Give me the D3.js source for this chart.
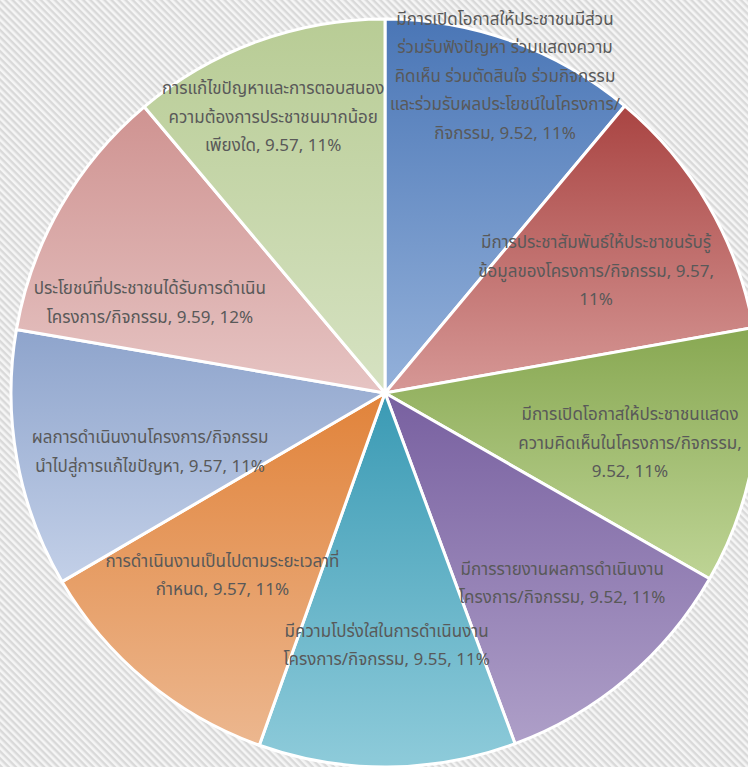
<!DOCTYPE html>
<html><head><meta charset="utf-8">
<script src="https://cdn.jsdelivr.net/npm/d3@7"></script>
<style>html,body{margin:0;padding:0;background:#fff;}svg{display:block;}</style>
</head><body>
<svg id="c" width="748" height="767"></svg>
<script>
const categories = [
  "มีการเปิดโอกาสให้ประชาชนมีส่วนร่วมรับฟังปัญหา ร่วมแสดงความคิดเห็น ร่วมตัดสินใจ ร่วมกิจกรรมและร่วมรับผลประโยชน์ในโครงการ/กิจกรรม",
  "มีการประชาสัมพันธ์ให้ประชาชนรับรู้ข้อมูลของโครงการ/กิจกรรม",
  "มีการเปิดโอกาสให้ประชาชนแสดงความคิดเห็นในโครงการ/กิจกรรม",
  "มีการรายงานผลการดำเนินงานโครงการ/กิจกรรม",
  "มีความโปร่งใสในการดำเนินงานโครงการ/กิจกรรม",
  "การดำเนินงานเป็นไปตามระยะเวลาที่กำหนด",
  "ผลการดำเนินงานโครงการ/กิจกรรมนำไปสู่การแก้ไขปัญหา",
  "ประโยชน์ที่ประชาชนได้รับการดำเนินโครงการ/กิจกรรม",
  "การแก้ไขปัญหาและการตอบสนองความต้องการประชาชนมากน้อยเพียงใด"
];
const values = [9.52, 9.57, 9.52, 9.52, 9.55, 9.57, 9.57, 9.59, 9.57];
const percentLabels = ["11%","11%","11%","11%","11%","11%","11%","12%","11%"];
// line wrapping of each data label, as shown in the chart
const labelLines = [
  ["มีการเปิดโอกาสให้ประชาชนมีส่วน","ร่วมรับฟังปัญหา ร่วมแสดงความ","คิดเห็น ร่วมตัดสินใจ ร่วมกิจกรรม","และร่วมรับผลประโยชน์ในโครงการ/","กิจกรรม, 9.52, 11%"],
  ["มีการประชาสัมพันธ์ให้ประชาชนรับรู้","ข้อมูลของโครงการ/กิจกรรม, 9.57,","11%"],
  ["มีการเปิดโอกาสให้ประชาชนแสดง","ความคิดเห็นในโครงการ/กิจกรรม,","9.52, 11%"],
  ["มีการรายงานผลการดำเนินงาน","โครงการ/กิจกรรม, 9.52, 11%"],
  ["มีความโปร่งใสในการดำเนินงาน","โครงการ/กิจกรรม, 9.55, 11%"],
  ["การดำเนินงานเป็นไปตามระยะเวลาที่","กำหนด, 9.57, 11%"],
  ["ผลการดำเนินงานโครงการ/กิจกรรม","นำไปสู่การแก้ไขปัญหา, 9.57, 11%"],
  ["ประโยชน์ที่ประชาชนได้รับการดำเนิน","โครงการ/กิจกรรม, 9.59, 12%"],
  ["การแก้ไขปัญหาและการตอบสนอง","ความต้องการประชาชนมากน้อย","เพียงใด, 9.57, 11%"]
];
const colorsTop = ["#4a76b6","#a94442","#88a852","#7860a0","#3a9ab4","#e1833a","#8ea4cc","#cf9391","#b8cc95"];
const colorsBottom = ["#94b1da","#d69896","#bed495","#ae9fc8","#8ecbda","#ecb78f","#c3d0e8","#e6c4c3","#d6e2c2"];

// label layout (distance from centre, angle nudge in degrees)
const labelR = [339, 244, 250, 260, 252, 244, 242, 252, 298];
const labelDA = [0.8, 0, 1.6, -2.7, 0, 2.1, -3.7, -8.8, -2];

const svg = d3.select("#c");
const W = 748, H = 767, cx = 385, cy = 393, R = 374;
const defs = svg.append("defs");
const pat = defs.append("pattern").attr("id","stripes").attr("patternUnits","userSpaceOnUse")
  .attr("width",5).attr("height",5).attr("patternTransform","rotate(45)");
pat.append("rect").attr("width",5).attr("height",5).attr("fill","#f5f5f5");
pat.append("rect").attr("width",5).attr("height",2.4).attr("fill","#d9d9d9");
svg.append("rect").attr("width",W).attr("height",H).attr("fill","url(#stripes)");

values.forEach((v,i)=>{
  const g = defs.append("linearGradient").attr("id","g"+i).attr("x1",0).attr("y1",0).attr("x2",0).attr("y2",1);
  g.append("stop").attr("offset","0%").attr("stop-color",colorsTop[i]);
  g.append("stop").attr("offset","100%").attr("stop-color",colorsBottom[i]);
});

const pie = d3.pie().sort(null).value(d=>d)(values);
const arc = d3.arc().innerRadius(0).outerRadius(R);
const gp = svg.append("g").attr("transform",`translate(${cx},${cy})`);
gp.selectAll("path").data(pie).join("path")
  .attr("d",arc).attr("fill",(d,i)=>`url(#g${i})`)
  .attr("stroke","#fff").attr("stroke-width",3).attr("stroke-linejoin","round")
  .append("title").text((d,i)=>`${categories[i]}, ${values[i]}, ${percentLabels[i]}`);

const lh = 28.5;
pie.forEach((d,i)=>{
  const a = (d.startAngle + d.endAngle)/2 + labelDA[i]*Math.PI/180;
  const x = Math.sin(a)*labelR[i], y = -Math.cos(a)*labelR[i];
  const lines = labelLines[i];
  const t = gp.append("text").attr("text-anchor","middle")
    .attr("font-family","Tahoma, 'Noto Sans Thai', 'Noto Sans Thai UI', 'Noto Sans', sans-serif")
    .attr("font-size",17).attr("fill","#595959");
  lines.forEach((s,k)=>{
    t.append("tspan").attr("x",x).attr("y", y + (k - (lines.length-1)/2)*lh + 6).text(s);
  });
});
</script>
</body></html>
